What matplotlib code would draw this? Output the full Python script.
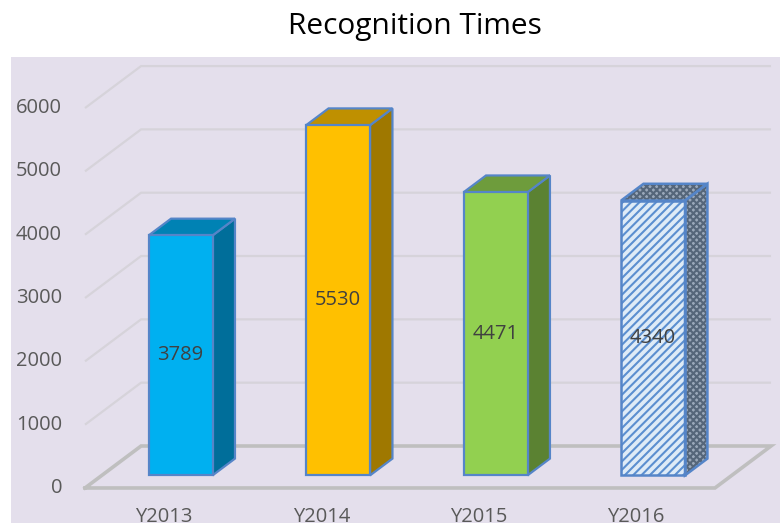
import matplotlib
matplotlib.use("Agg")
import matplotlib.pyplot as plt
from matplotlib.patches import Polygon

# data
categories = ["Y2013", "Y2014", "Y2015", "Y2016"]
values = [3789, 5530, 4471, 4340]
yticks = [0, 1000, 2000, 3000, 4000, 5000, 6000]

front_colors = ["#00B0F0", "#FFC000", "#92D050", "#DEEBF7"]
top_colors = ["#0082B4", "#BF9000", "#6E9C3C", "#9AA8BA"]
side_colors = ["#006E9A", "#9F7800", "#5B8232", "#9AA8BA"]
edge_color = "#5585C8"

plt.rcParams["font.family"] = ["Open Sans", "DejaVu Sans"]
plt.rcParams["hatch.linewidth"] = 1.5

# fake 3d: depth offset of the back wall in data units
DX = 0.356
DY = 663
front_d, back_d = 0.3, 0.7  # bar sits between these depth fractions
width = 0.406

fig = plt.figure(figsize=(7.8, 5.26), dpi=100)
ax = fig.add_axes([11 / 780, 3 / 526, 769 / 780, 466 / 526])
ax.set_facecolor("#E4DFEC")
ax.set_xlim(-0.970, 3.913)
ax.set_ylim(-553, 6806)
ax.set_xticks([])
ax.set_yticks([])
for s in ax.spines.values():
    s.set_visible(False)

n = len(categories)
x0, x1 = -0.5, n - 0.5

# wall gridlines
for v in yticks[1:]:
    ax.plot([x0, x0 + DX, x1 + DX], [v, v + DY, v + DY],
            color="#D6D3DA", lw=1.6, zorder=1, solid_capstyle="butt")

# floor
ax.plot([x0, x1, x1 + DX, x0 + DX, x0], [0, 0, DY, DY, 0],
        color="#BFBFBF", lw=2.6, zorder=1, solid_joinstyle="miter")

# y labels
for v in yticks:
    ax.text(-0.646, v, str(v), ha="right", va="center",
            fontsize=14.5, color="#595959")

# category labels sit at the very bottom of the plot area
for i, c in enumerate(categories):
    ax.text(i, -535, c, ha="center", va="baseline", fontsize=14.5,
            color="#595959")

ox, oy = front_d * DX, front_d * DY
ddx, ddy = (back_d - front_d) * DX, (back_d - front_d) * DY

for i, v in enumerate(values):
    xl = i + ox - width / 2
    xr = xl + width
    b = oy
    t = oy + v
    side = [(xr, b), (xr, t), (xr + ddx, t + ddy), (xr + ddx, b + ddy)]
    top = [(xl, t), (xr, t), (xr + ddx, t + ddy), (xl + ddx, t + ddy)]
    if i == 3:
        # patterned bar
        ax.bar(i + ox, v, bottom=b, width=width, color=front_colors[i],
               edgecolor="#5B8FD0", hatch="////", linewidth=0, zorder=3)
        for poly, fc in ((side, side_colors[i]), (top, top_colors[i])):
            ax.add_patch(Polygon(poly, closed=True, facecolor=fc,
                                 edgecolor="#55667A", hatch="xxxxx",
                                 linewidth=0, zorder=3))
        ax.bar(i + ox, v, bottom=b, width=width, fill=False,
               edgecolor=edge_color, linewidth=1.8, zorder=4)
        for poly in (side, top):
            ax.add_patch(Polygon(poly, closed=True, fill=False,
                                 edgecolor=edge_color, linewidth=1.8, zorder=4))
    else:
        ax.add_patch(Polygon(side, closed=True, facecolor=side_colors[i],
                             edgecolor=edge_color, linewidth=1.6, zorder=3))
        ax.add_patch(Polygon(top, closed=True, facecolor=top_colors[i],
                             edgecolor=edge_color, linewidth=1.6, zorder=3))
        ax.bar(i + ox, v, bottom=b, width=width, color=front_colors[i],
               edgecolor=edge_color, linewidth=1.6, zorder=4)
    ax.text(i + ox, b + v / 2, str(v), ha="center", va="center",
            fontsize=14.5, color="#404040", zorder=5)

fig.text(415 / 780, 1 - 34 / 526, "Recognition Times", ha="center",
         va="baseline", fontsize=21.5, color="black")

fig.savefig("out.png", dpi=100)
